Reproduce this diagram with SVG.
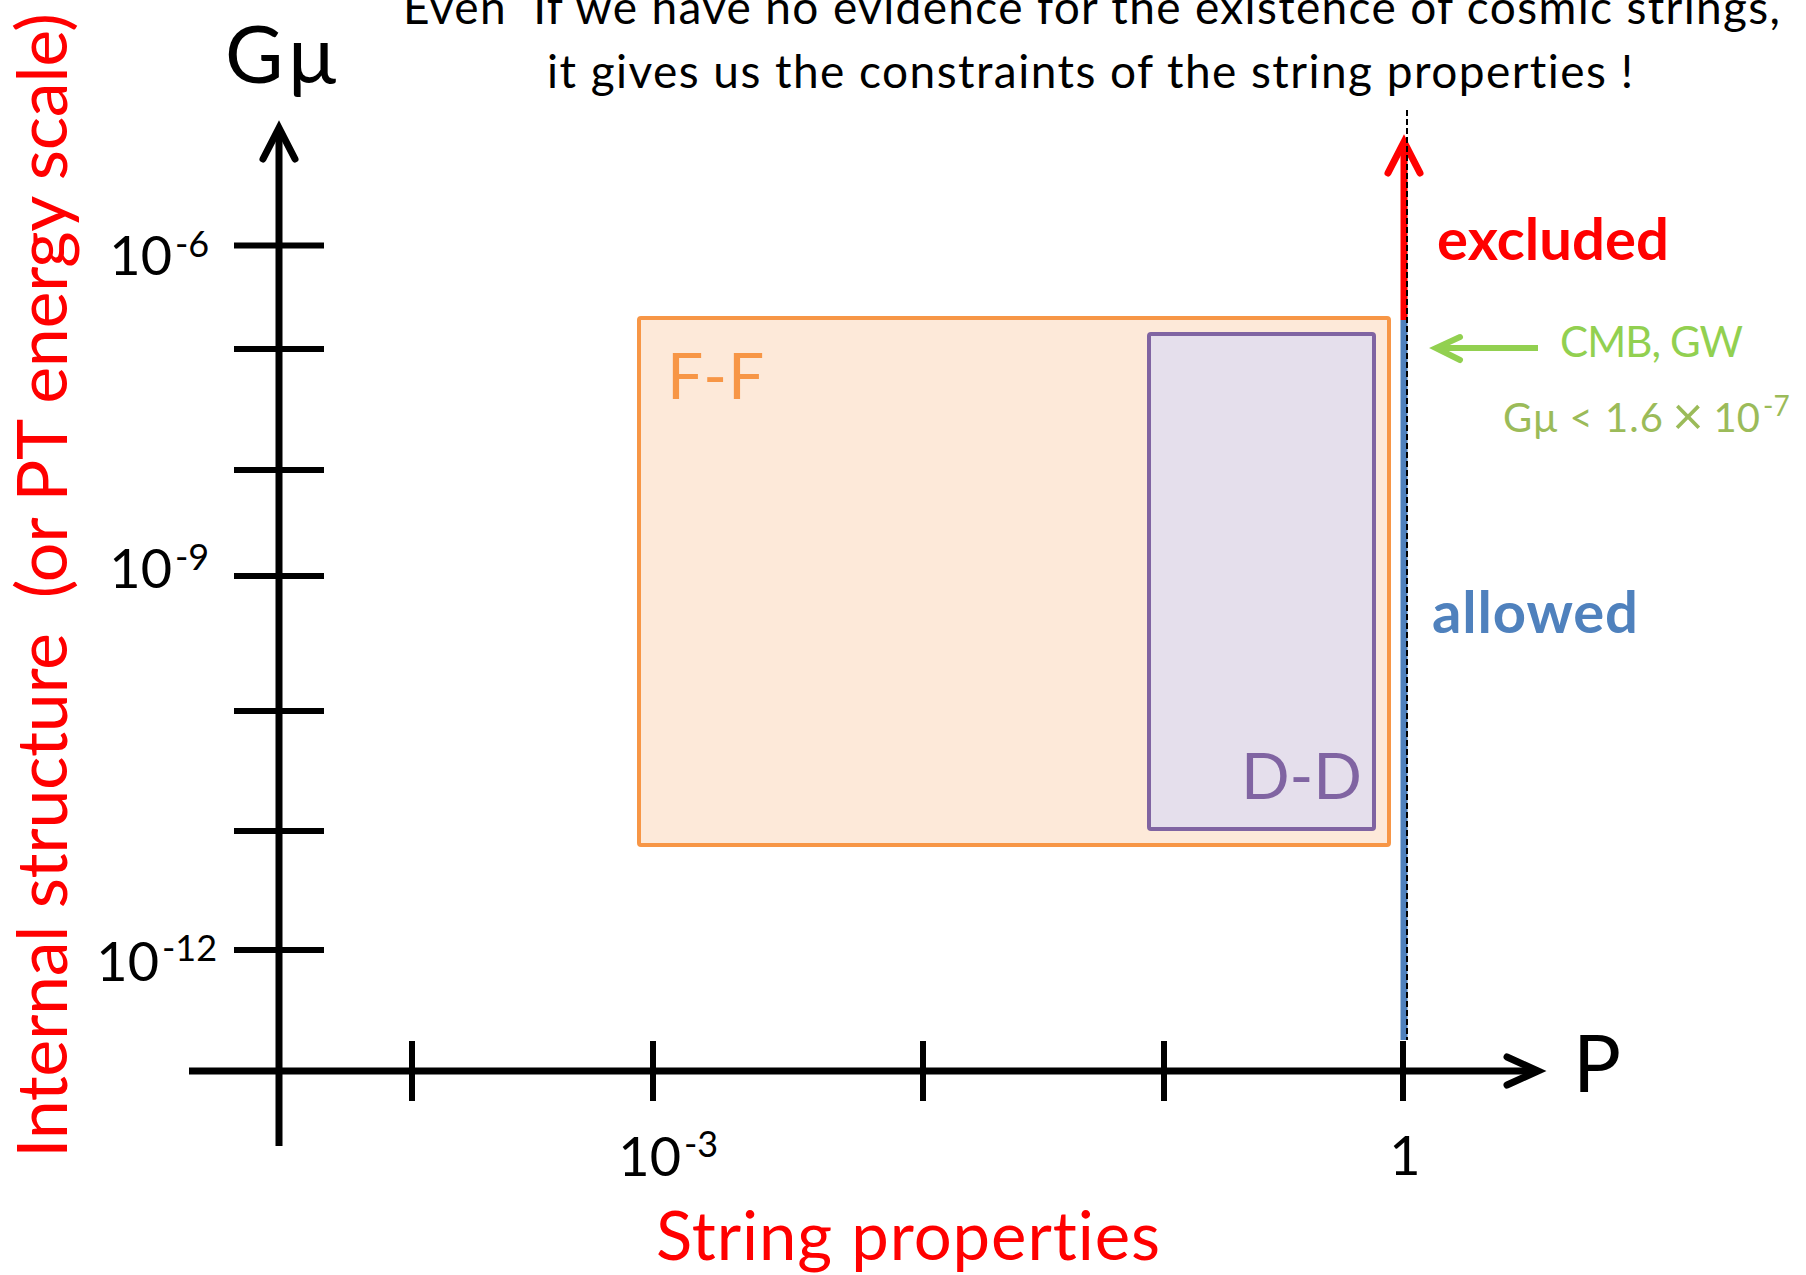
<svg xmlns="http://www.w3.org/2000/svg" width="1806" height="1275" viewBox="0 0 1806 1275">
<style>
text{font-family:Lato,"Liberation Sans",sans-serif;font-variant-ligatures:none}
.ax{stroke:#000;stroke-width:7;fill:none;stroke-linecap:butt}
.tk{stroke:#000;stroke-width:6;fill:none}
.head{fill:none;stroke-linecap:round;stroke-linejoin:miter}
.red{fill:#FF0000}
.num{font-size:54px}
.sup{font-size:36px}
</style>
<rect width="1806" height="1275" fill="#fff"/>
<g id="title">
<text x="403" y="24" font-size="46" textLength="1377" xml:space="preserve">Even  If we have no evidence for the existence of cosmic strings,</text>
<text x="547" y="88" font-size="46" textLength="1086">it gives us the constraints of the string properties !</text>
</g>
<g id="ff-region">
<rect x="639" y="318" width="750" height="527" rx="2" fill="#FDE9D9" stroke="#F79646" stroke-width="4"/>
<text x="667" y="399" font-size="64" fill="#F79646" letter-spacing="1">F-F</text>
</g>
<g id="dd-region">
<rect x="1149" y="334" width="225" height="495" rx="2" fill="#E5DFEC" stroke="#8064A2" stroke-width="4"/>
<text x="1362" y="799" font-size="64" fill="#8064A2" text-anchor="end">D-D</text>
</g>
<g id="connectors">
<line class="ax" x1="279" y1="1146" x2="279" y2="132"/>
<polyline class="ax head" points="263,159 279,128 295,159"/>
<line class="ax" x1="189" y1="1071" x2="1534" y2="1071"/>
<polyline class="ax head" points="1507,1057 1538,1071 1507,1085"/>
<g class="tk">
<line x1="234" y1="245.5" x2="324" y2="245.5"/>
<line x1="234" y1="349" x2="324" y2="349"/>
<line x1="234" y1="470" x2="324" y2="470"/>
<line x1="234" y1="576" x2="324" y2="576"/>
<line x1="234" y1="711" x2="324" y2="711"/>
<line x1="234" y1="831" x2="324" y2="831"/>
<line x1="234" y1="950" x2="324" y2="950"/>
<line x1="412" y1="1041" x2="412" y2="1101"/>
<line x1="653" y1="1041" x2="653" y2="1101"/>
<line x1="923" y1="1041" x2="923" y2="1101"/>
<line x1="1164" y1="1041" x2="1164" y2="1101"/>
<line x1="1403" y1="1041" x2="1403" y2="1101"/>
</g>
<line x1="1404" y1="320" x2="1404" y2="1040" stroke="#4F81BD" stroke-width="7"/>
<line x1="1404" y1="320" x2="1404" y2="146" stroke="#FF0000" stroke-width="7"/>
<polyline class="head" points="1388,173 1404,142 1420,173" stroke="#FF0000" stroke-width="7"/>
<line x1="1407" y1="110" x2="1407" y2="1040" stroke="#000" stroke-width="2" stroke-dasharray="6,3"/>
<line x1="1538" y1="348" x2="1440" y2="348" stroke="#92D050" stroke-width="6"/>
<polyline class="head" points="1460,337 1436,348 1460,360" stroke="#92D050" stroke-width="6"/>
</g>
<g id="axis-labels">
<text x="225" y="83" font-size="80" textLength="111">Gμ</text>
<text x="1573" y="1092" font-size="80">P</text>
<text transform="translate(67,1158) rotate(-90)" font-size="70" class="red" textLength="1145" xml:space="preserve">Internal structure  (or PT energy scale)</text>
<text x="656" y="1260" font-size="67" class="red" textLength="504">String properties</text>
</g>
<g id="tick-labels">
<g id="lbl-1e-6"><text class="num" x="172" y="275" text-anchor="end">10</text><text class="sup" x="175" y="257">-6</text></g>
<g id="lbl-1e-9"><text class="num" x="172" y="588" text-anchor="end">10</text><text class="sup" x="175" y="570">-9</text></g>
<g id="lbl-1e-12"><text class="num" x="159" y="981" text-anchor="end">10</text><text class="sup" x="162" y="961">-12</text></g>
<g id="lbl-1e-3"><text class="num" x="681" y="1176" text-anchor="end">10</text><text class="sup" x="684" y="1157">-3</text></g>
<text class="num" x="1405" y="1175" text-anchor="middle">1</text>
</g>
<g id="annotations">
<text x="1437" y="260" font-size="58" font-weight="bold" fill="#FF0000" textLength="232">excluded</text>
<text x="1432" y="633" font-size="58" font-weight="bold" fill="#4F81BD" textLength="206">allowed</text>
<text x="1560" y="357" font-size="42" fill="#92D050" textLength="183">CMB, GW</text>
<g id="limit" fill="#9BBB59">
<text x="1503" y="432" font-size="40" textLength="160">Gμ &lt; 1.6</text>
<text x="1688" y="435" font-size="54" text-anchor="middle" font-family="Liberation Sans, sans-serif">×</text>
<text x="1760" y="432" font-size="40" text-anchor="end">10</text>
<text x="1763" y="416" font-size="28">-7</text>
</g>
</g>
</svg>
